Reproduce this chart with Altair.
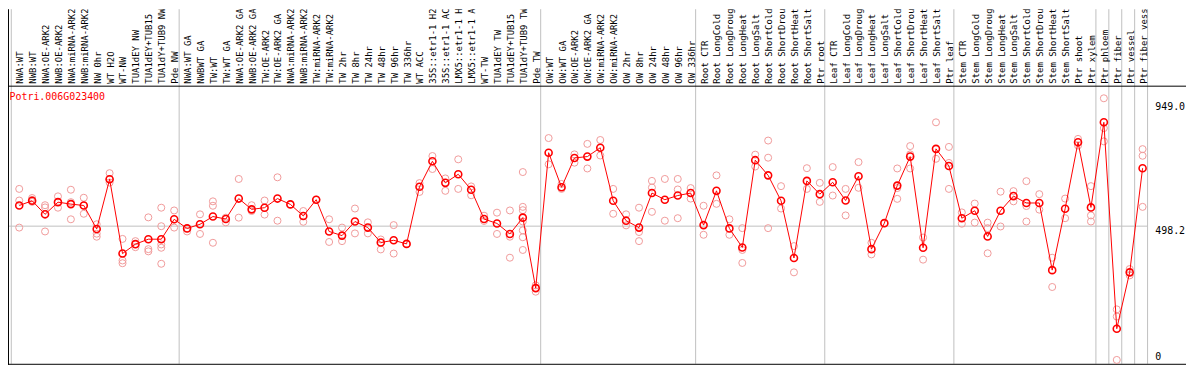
import altair as alt
import pandas as pd

gene = "Potri.006G023400"

labels = [
    "NWA:WT", "NWB:WT", "NWA:OE-ARK2", "NWB:OE-ARK2", "NWA:miRNA-ARK2", "NWB:miRNA-ARK2",
    "NW 0hr", "WT H2O", "WT-NW", "TUA1dEY NW", "TUA1dEY+TUB15 NW", "TUA1dY+TUB9 NW", "Pde NW",
    "NWA:WT GA", "NWBWT GA", "TW:WT", "TW:WT GA", "NWA:OE-ARK2 GA", "NWB:OE-ARK2 GA",
    "TW:OE-ARK2", "TW:OE-ARK2 GA", "NWA:miRNA-ARK2 GA", "NWB:miRNA-ARK2 GA", "TW:miRNA-ARK2",
    "TW:miRNA-ARK2 GA", "TW 2hr", "TW 8hr", "TW 24hr", "TW 48hr", "TW 96hr", "TW 336hr", "WT ACC",
    "35S::etr1-1 H2O", "35S::etr1-1 ACC", "LMX5::etr1-1 H2O", "LMX5::etr1-1 ACC", "WT-TW",
    "TUA1dEY TW", "TUA1dEY+TUB15 TW", "TUA1dY+TUB9 TW", "Pde TW",
    "OW:WT", "OW:WT GA", "OW:OE-ARK2", "OW:OE-ARK2 GA", "OW:miRNA-ARK2", "OW:miRNA-ARK2 GA",
    "OW 2hr", "OW 8hr", "OW 24hr", "OW 48hr", "OW 96hr", "OW 336hr",
    "Root CTR", "Root LongCold", "Root LongDrought", "Root LongHeat", "Root LongSalt",
    "Root ShortCold", "Root ShortDrought", "Root ShortHeat", "Root ShortSalt", "Ptr root",
    "Leaf CTR", "Leaf LongCold", "Leaf LongDrought", "Leaf LongHeat", "Leaf LongSalt",
    "Leaf ShortCold", "Leaf ShortDrought", "Leaf ShortHeat", "Leaf ShortSalt", "Ptr leaf",
    "Stem CTR", "Stem LongCold", "Stem LongDrought", "Stem LongHeat", "Stem LongSalt",
    "Stem ShortCold", "Stem ShortDrought", "Stem ShortHeat", "Stem ShortSalt", "Ptr shoot",
    "Ptr xylem", "Ptr phloem", "Ptr fiber", "Ptr vessel", "Ptr fiber vessel",
]

means = [
    573, 590, 541, 585, 578, 573, 488, 668, 399, 433, 451, 451, 523,
    490, 505, 533, 524, 598, 559, 565, 598, 577, 535, 594, 479, 464, 515, 493, 439, 447, 434,
    641, 733, 655, 686, 630, 524, 508, 470, 529, 274,
    764, 639, 745, 750, 782, 590, 518, 493, 618, 594, 609, 618,
    502, 626, 490, 421, 737, 682, 590, 383, 662, 614,
    657, 591, 679, 415, 509, 645, 750, 420, 778, 716,
    527, 554, 461, 554, 607, 582, 582, 339, 561, 802, 566,
    874, 127, 331, 708,
]

reps = [
    [633, 591, 493], [600, 593, 586], [574, 566, 479], [606, 565, 585], [630, 585, 523],
    [601, 573, 543], [505, 471, 460], [690, 656, 668], [452, 374, 364], [444, 422, 433],
    [530, 415, 407], [565, 498, 432, 420, 362], [555, 493],
    [490, 479], [541, 470], [588, 572, 438], [529, 512], [669, 529], [574, 553], [591, 540],
    [675, 518], [577], [553, 514], [594], [523, 441], [493, 444], [562, 472], [512, 472],
    [450, 414], [502, 399], [434], [654, 622], [752, 705], [671, 626], [740, 633], [642, 610],
    [536, 517], [547, 470], [555, 460, 384], [694, 568, 556, 515, 483, 458, 412], [284, 261],
    [817, 722], [651, 633], [758, 728], [796, 707], [810, 754], [633, 543], [541, 501],
    [565, 477, 444], [662, 638, 550], [669, 518], [669, 631, 527], [636, 598],
    [572, 467], [682, 579], [523, 467], [491, 412, 365], [757, 714], [808, 746, 491],
    [643, 562], [426, 331], [708, 633], [655, 586],
    [712, 609], [633, 537], [730, 637], [438, 396], [509], [707, 636, 597], [788, 758, 707],
    [457, 377], [874, 742], [785, 727, 633],
    [548, 507], [580, 511], [511, 491, 400], [623, 497], [625, 588], [661, 571, 515],
    [614, 558], [384, 278], [598, 527], [814, 790], [643, 537, 515],
    [961, 853, 805], [197, 171, 14], [343, 320], [777, 753, 568],
]

group_starts = [1, 14, 42, 54, 64, 74, 85, 86, 87, 88, 89]
tick_values = [949.0, 498.2]
tick_texts = ["949.0", "498.2"]
zero_value = [0]
zero_text = ["0"]

W, H = 1186, 358
BOT = H - 1
n = len(labels)
xs = alt.Scale(domain=[1, n], range=[11.3, 11.3 + (n - 1) * 13.0], nice=False, zero=False)
ys = alt.Scale(domain=[0, 1003], range=[BOT, 78], nice=False, zero=False)

idx = list(range(1, n + 1))
df_mean = pd.DataFrame({"i": idx, "v": means, "label": labels})
df_rep = pd.DataFrame([{"i": k + 1, "v": r} for k, rr in enumerate(reps) for r in rr])
df_sep = pd.DataFrame({"x": [g - 0.615 for g in group_starts]})
df_grid = pd.DataFrame({"a": [1 - 11.3 / 13.0], "b": [group_starts[-1] - 0.615], "v": [tick_values[1]]})
df_ticks = pd.DataFrame({"v": tick_values, "t": tick_texts})
df_zero = pd.DataFrame({"v": zero_value, "t": zero_text})
df_title = pd.DataFrame({"t": [gene]})
df_one = pd.DataFrame({"k": [0]})

X = lambda f: alt.X(f, scale=xs, axis=None)
Y = lambda f: alt.Y(f, scale=ys, axis=None)
FONT = "DejaVu Sans Mono"

seps = alt.Chart(df_sep).mark_rule(color="#c0c0c0", strokeWidth=1).encode(
    x=X("x:Q"), y=alt.value(0), y2=alt.value(BOT))
grid = alt.Chart(df_grid).mark_rule(color="#c0c0c0", strokeWidth=1).encode(
    x=X("a:Q"), x2="b:Q", y=Y("v:Q"))
hline = alt.Chart(df_one).mark_rule(color="black", strokeWidth=1).encode(
    x=alt.value(0), x2=alt.value(W), y=alt.value(77.5))
bline = alt.Chart(df_one).mark_rule(color="black", strokeWidth=1).encode(
    x=alt.value(0), x2=alt.value(W), y=alt.value(BOT + 0.5))
lline = alt.Chart(df_one).mark_rule(color="black", strokeWidth=1).encode(
    x=alt.value(0.5), y=alt.value(0), y2=alt.value(H))

rep_pts = alt.Chart(df_rep).mark_point(shape="circle", size=50, filled=False, color="#f09a9a",
                                       strokeWidth=1, opacity=1).encode(x=X("i:Q"), y=Y("v:Q"))
mline = alt.Chart(df_mean).mark_line(color="#ff0000", strokeWidth=1).encode(
    x=X("i:Q"), y=Y("v:Q"))
mpts = alt.Chart(df_mean).mark_point(shape="circle", size=50, filled=False, color="#ff0000",
                                     strokeWidth=1.6, opacity=1).encode(x=X("i:Q"), y=Y("v:Q"))

lab = alt.Chart(df_mean).mark_text(angle=270, align="left", baseline="middle", font=FONT,
                                   fontSize=9, color="black", dy=1, clip=True).encode(
    x=X("i:Q"), y=alt.value(75), text="label:N")
title = alt.Chart(df_title).mark_text(align="left", baseline="middle", font=FONT, fontSize=10,
                                      color="#ff0000").encode(
    x=alt.value(1.5), y=alt.value(88.7), text="t:N")
ticks = alt.Chart(df_ticks).mark_text(align="left", baseline="middle", font=FONT, fontSize=10,
                                      color="black", dy=5).encode(
    x=alt.value(1155), y=Y("v:Q"), text="t:N")
zero = alt.Chart(df_zero).mark_text(align="left", baseline="bottom", font=FONT, fontSize=10,
                                    color="black", dy=-2).encode(
    x=alt.value(1155), y=Y("v:Q"), text="t:N")

chart = alt.layer(seps, grid, hline, bline, lline, rep_pts, mline, mpts, lab, title, ticks, zero).properties(
    width=W, height=H, padding=0, autosize=alt.AutoSizeParams(type="none"),
    background="white",
).configure_view(strokeWidth=0)

chart.save("out.html", embed_options={"renderer": "svg", "actions": False})
